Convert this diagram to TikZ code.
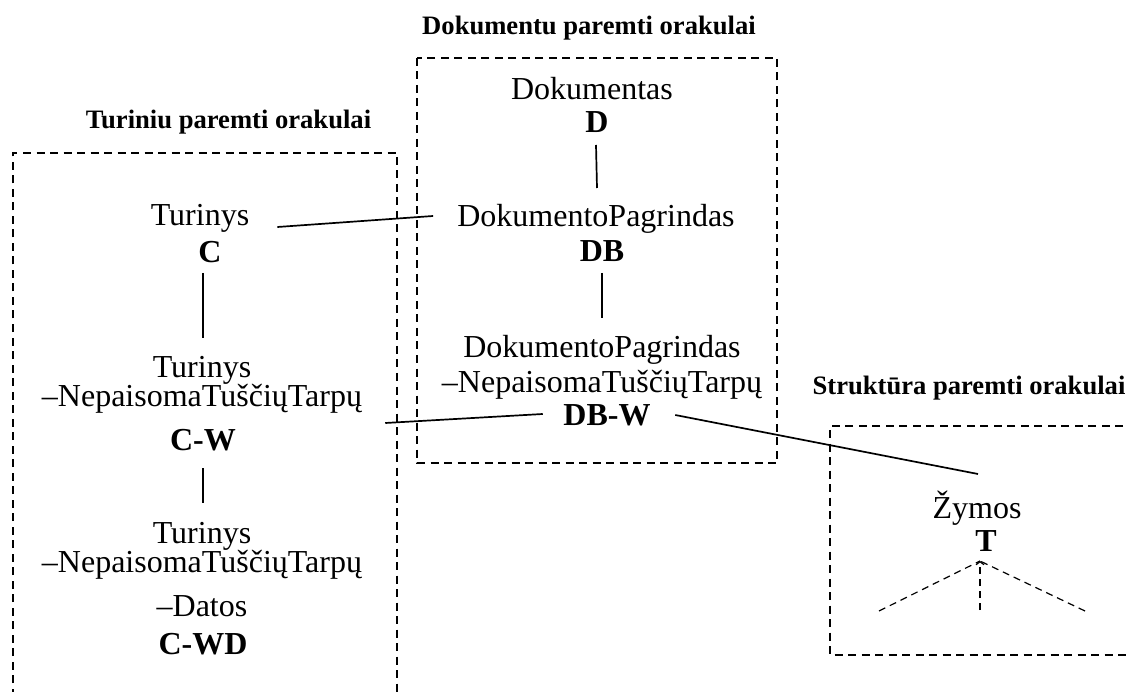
\documentclass[tikz,border=0pt]{standalone}
\usepackage{fontspec}
\setmainfont{Liberation Serif}
\usetikzlibrary{calc,arrows.meta}

\begin{document}
\begin{tikzpicture}[x=1pt,y=-1pt,
  txt/.style={anchor=base, inner sep=0pt, font=\fontsize{32}{37}\selectfont},
  code/.style={anchor=base, inner sep=0pt, font=\fontsize{32}{37}\selectfont\bfseries},
  head/.style={anchor=base, inner sep=0pt, font=\fontsize{26.6}{30}\selectfont\bfseries},
  group/.style={line width=1.4pt, dash pattern=on 8pt off 5.5pt},
  link/.style={line width=1.7pt},
  branch/.style={line width=1.2pt, dash pattern=on 7pt off 5pt},
]
\useasboundingbox (0,0) rectangle (1129,692);
\clip (0,0) rectangle (1129,692);

% group titles
\node[head] (hC) at (228.5,129) {Turiniu paremti orakulai};
\node[head] (hD) at (589,35) {Dokumentu paremti orakulai};
\node[head] (hS) at (969,394) {Struktūra paremti orakulai};

% dashed group frames (left and right ones run off the page)
\draw[group] (13,710) -- (13,153) -- (397,153) -- (397,710);
\draw[group] (417,58) rectangle (777,463);
\draw[group] (1150,426) -- (830,426) -- (830,655) -- (1150,655);

% content based oracles
\node[txt]  (t1)  at (200,226) {Turinys};
\node[code] (c)   at (210,263) {C};
\node[txt]  (t2)  at (202,377) {Turinys};
\node[txt]  (n2)  at (202,406) {–NepaisomaTuščiųTarpų};
\node[code] (cw)  at (203,450) {C-W};
\node[txt]  (t3)  at (202,543) {Turinys};
\node[txt]  (n3)  at (202,572) {–NepaisomaTuščiųTarpų};
\node[txt]  (d3)  at (202,616) {–Datos};
\node[code] (cwd) at (203,654) {C-WD};

% document based oracles
\node[txt]  (dk)  at (592,100) {Dokumentas};
\node[code] (d)   at (597,133) {D};
\node[txt]  (dp1) at (596,227) {DokumentoPagrindas};
\node[code] (db)  at (602,262) {DB};
\node[txt]  (dp2) at (602,357) {DokumentoPagrindas};
\node[txt]  (n4)  at (602,392) {–NepaisomaTuščiųTarpų};
\node[code] (dbw) at (607,425) {DB-W};

% structure based oracles
\node[txt]  (zy)  at (977,518) {Žymos};
\node[code] (tt)  at (986,551) {T};

% hierarchy links
\draw[link] ($(c.base)+(-7,10)$) -- ($(t2.base)+(1,-39)$);
\draw[link] ($(cw.base)+(0,18)$) -- ($(t3.base)+(1,-40)$);
\draw[link] ($(d.base)+(-1,12)$) -- ($(dp1.base)+(1,-39)$);
\draw[link] ($(db.base)+(0,11)$) -- ($(dp2.base)+(0,-39)$);

% links between groups
\draw[link] ($(t1.base east)+(28,1)$) -- ($(dp1.base west)+(-24,-11)$);
\draw[link] ($(n2.base east)+(23,17)$) -- ($(dbw.base west)+(-20.5,-11)$);
\draw[link] ($(dbw.base east)+(24.5,-10)$) -- ($(zy.base)+(1,-44)$);

% tag tree below T
\coordinate (apex) at ($(tt.base)+(-6,10)$);
\coordinate (bl) at (879,611);
\coordinate (bm) at (980,610);
\coordinate (br) at (1085,611);
\draw[branch] (bl) -- (apex);
\draw[branch] (br) -- (apex);
\draw[branch,-{Straight Barb[length=3pt,width=8pt]}] (bm) -- (apex);
\end{tikzpicture}
\end{document}
